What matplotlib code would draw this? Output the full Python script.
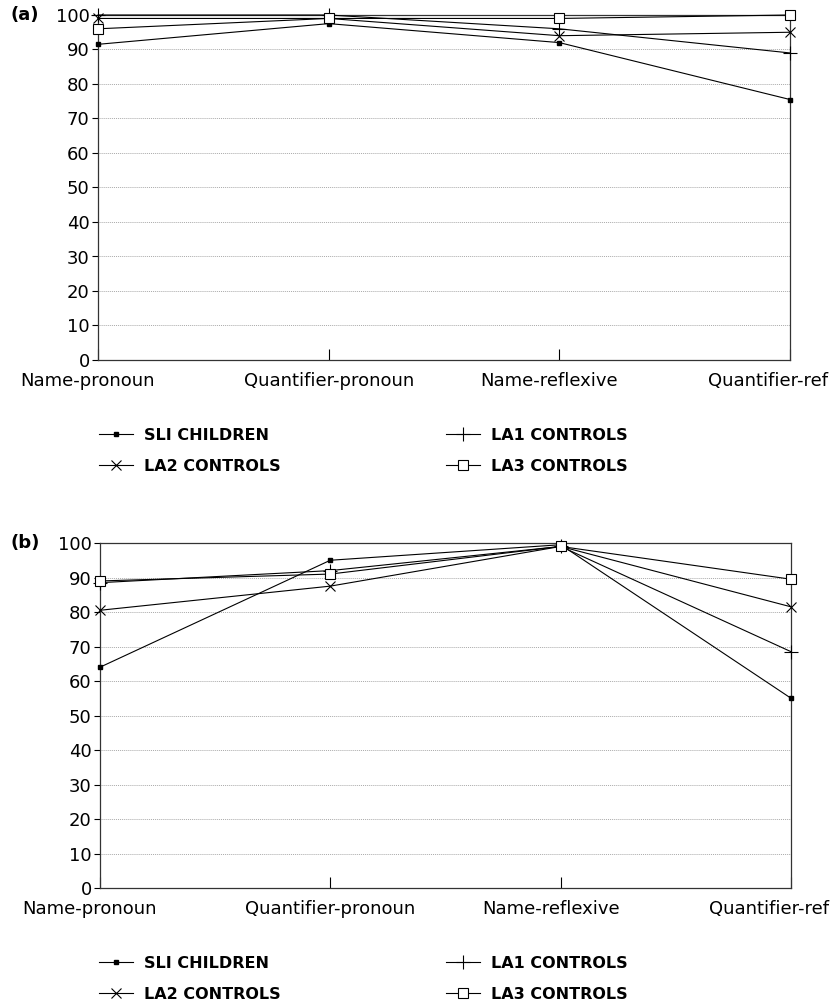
import matplotlib.pyplot as plt
from matplotlib.lines import Line2D

conditions = ['Name-pronoun', 'Quantifier-pronoun', 'Name-reflexive', 'Quantifier-ref']

# panel (a) percentages
sli_a = [91.5, 97.5, 92, 75.5]
la1_a = [100, 100, 96, 89]
la2_a = [99, 99, 94, 95]
la3_a = [96, 99, 99, 100]

# panel (b) percentages
sli_b = [64, 95, 99.5, 55]
la1_b = [88.5, 92, 99, 68.5]
la2_b = [80.5, 87.5, 99, 81.5]
la3_b = [89, 91, 99, 89.5]

groups = ['SLI CHILDREN', 'LA1 CONTROLS', 'LA2 CONTROLS', 'LA3 CONTROLS']
markers = {'SLI CHILDREN': dict(marker='s', ms=2.5, mfc='black', mec='black'),
           'LA1 CONTROLS': dict(marker='+', ms=10, mew=0.8),
           'LA2 CONTROLS': dict(marker='x', ms=7, mew=0.8),
           'LA3 CONTROLS': dict(marker='s', ms=7, mfc='white', mec='black', mew=0.8)}

# horizontal nudges of the category labels, in pixels
label_shift = [-10, 0, -10, -22]

fig = plt.figure(figsize=(8.32, 10.05), dpi=100)
W, H = 832, 1005


def draw_panel(rect, series, tag):
    ax = fig.add_axes(rect)
    x = range(len(conditions))
    for name in groups:
        ax.plot(x, series[name], color='black', lw=0.8, clip_on=False,
                zorder=3, **markers[name])
    ax.set_xlim(0, 3)
    ax.set_ylim(0, 100)
    ax.set_yticks(range(0, 101, 10))
    ax.set_xticks(list(x))
    ax.set_xticklabels([])
    for i, (lab, dx) in enumerate(zip(conditions, label_shift)):
        ax.annotate(lab, xy=(i, 0), xycoords=('data', 'axes fraction'),
                    xytext=(dx, -12), textcoords='offset pixels',
                    ha='center', va='top', fontsize=13, annotation_clip=False)
    ax.tick_params(axis='y', direction='out', length=4, width=0.8, labelsize=13, pad=2)
    ax.tick_params(axis='x', direction='in', length=8, width=0.8)
    ax.grid(axis='y', color='#aaaaaa', lw=0.7, linestyle=(0, (1, 1)))
    for sp in ax.spines.values():
        sp.set_color('#333333')
        sp.set_linewidth(0.9)
    top = rect[1] + rect[3]
    fig.text(11 / W, top, tag, fontsize=13, fontweight='bold', ha='left', va='center')
    return ax


def handle(name):
    return Line2D([], [], color='black', lw=0.8, **markers[name])


def add_legend(y_top):
    cols = [(['SLI CHILDREN', 'LA2 CONTROLS'], 99), (['LA1 CONTROLS', 'LA3 CONTROLS'], 446)]
    for names, xpx in cols:
        fig.legend([handle(n) for n in names], names, loc='upper left',
                   bbox_to_anchor=(xpx / W, 1 - y_top / H), frameon=False,
                   prop=dict(size=11.5, weight='bold'), handlelength=2.1,
                   handletextpad=0.7, labelspacing=1.0, borderpad=0,
                   borderaxespad=0, numpoints=1)


draw_panel([98 / W, 1 - 360 / H, 692 / W, 345 / H],
           {'SLI CHILDREN': sli_a, 'LA1 CONTROLS': la1_a,
            'LA2 CONTROLS': la2_a, 'LA3 CONTROLS': la3_a}, '(a)')
add_legend(428)

draw_panel([100 / W, 1 - 888 / H, 691 / W, 345 / H],
           {'SLI CHILDREN': sli_b, 'LA1 CONTROLS': la1_b,
            'LA2 CONTROLS': la2_b, 'LA3 CONTROLS': la3_b}, '(b)')
add_legend(956)

fig.savefig('out.png', dpi=100)
